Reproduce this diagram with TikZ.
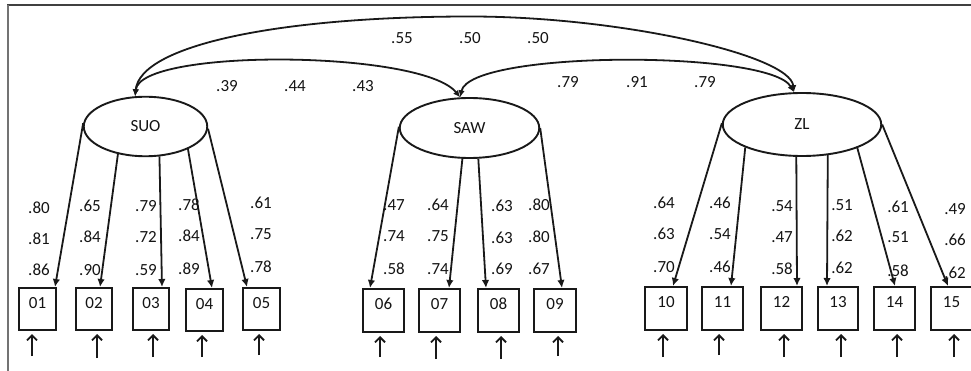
\documentclass[tikz,border=0pt]{standalone}
\usepackage{fontspec}
\setmainfont{Carlito}
\usetikzlibrary{arrows.meta,shapes.geometric}
\begin{document}
\begin{tikzpicture}[x=1pt,y=-1pt,
  every node/.style={font=\fontsize{17}{20}\selectfont, text=black!92},
  lat/.style={draw=black!90, line width=1.9pt, ellipse, inner sep=0pt},
  obs/.style={draw=black!90, line width=2.1pt, inner sep=0pt, text height=11pt, text depth=13pt,
              minimum width=40.9pt, minimum height=42.9pt},
  load/.style={draw=black!90, line width=1.8pt, -{Latex[length=8pt,width=7.5pt]}},
  cov/.style={draw=black!90, line width=1.8pt, {Latex[length=7pt,width=6.5pt]}-{Latex[length=7pt,width=6.5pt]}},
  err/.style={draw=black!90, line width=1.8pt, -{Straight Barb[length=5pt,width=10pt]}, shorten >=3pt},
  val/.style={inner sep=0pt}
]
\useasboundingbox (0,0) rectangle (971,371);
% frame
\draw[black!75, line width=1.8pt] (7,5) -- (971,5);
\draw[black!55, line width=1.5pt] (8,5) -- (8,371);

% latent variables
\node[lat, minimum width=123.5pt, minimum height=59.5pt] (SUO) at (145.5,126.5) {SUO};
\node[lat, minimum width=139.5pt, minimum height=60pt] (SAW) at (469.5,128) {SAW};
\node[lat, minimum width=158.5pt, minimum height=63pt] (ZL) at (802,124.5) {ZL};

% observed variables
\node[obs, minimum width=36.9pt, minimum height=41.9pt] (b01) at (37.5,309) {01};
\node[obs, minimum width=35.9pt, minimum height=41.9pt] (b02) at (94,309) {02};
\node[obs, minimum width=35.9pt, minimum height=41.9pt] (b03) at (151,309) {03};
\node[obs, minimum width=36.9pt, minimum height=41.9pt] (b04) at (204.5,310) {04};
\node[obs, minimum width=36.9pt, minimum height=41.9pt] (b05) at (261.5,309) {05};
\node[obs] (b06) at (383.5,310.5) {06};
\node[obs] (b07) at (439.5,310.5) {07};
\node[obs] (b08) at (498.5,310.5) {08};
\node[obs, minimum width=41.9pt] (b09) at (555,310.5) {09};
\node[obs, minimum width=41.9pt] (b10) at (666,308.5) {10};
\node[obs] (b11) at (722.5,308.5) {11};
\node[obs] (b12) at (781.5,308.5) {12};
\node[obs, minimum width=39.9pt] (b13) at (838,308.5) {13};
\node[obs] (b14) at (894.5,308.5) {14};
\node[obs] (b15) at (951.5,308.5) {15};

% covariances
\draw[cov] (SUO.109) .. controls (140,45) and (280,16.5) .. (470,16.5)
                     .. controls (620,16.5) and (790,55) .. (ZL.104);
\draw[cov] (SUO.109) .. controls (140,48) and (422,50) .. (SAW.107);
\draw[cov] (SAW.107) .. controls (470,50) and (770,50) .. (ZL.104);

% loadings
\draw[load] (SUO.177)   -- ([xshift=17.5pt]b01.north);
\draw[load] (SUO.225)   -- ([xshift=6pt]b02.north);
\draw[load] (SUO.295.5) -- ([xshift=11pt]b03.north);
\draw[load] (SUO.332.7) -- ([xshift=7.5pt]b04.north);
\draw[load] (SUO.358.6) -- ([xshift=-14.5pt]b05.north);
\draw[load] (SAW.179.2) -- ([xshift=-13.5pt]b06.north);
\draw[load] (SAW.257)   -- ([xshift=9.5pt]b07.north);
\draw[load] (SAW.286.5) -- ([xshift=-12.5pt]b08.north);
\draw[load] (SAW.0)     -- ([xshift=7pt]b09.north);
\draw[load] (ZL.179)    -- ([xshift=7pt]b10.north);
\draw[load] (ZL.202.4)  -- ([xshift=8.5pt]b11.north);
\draw[load] (ZL.260.4)  -- ([xshift=15.5pt]b12.north);
\draw[load] (ZL.310.3)  -- ([xshift=-11pt]b13.north);
\draw[load] (ZL.337.2)  -- ([xshift=0.5pt]b14.north);
\draw[load] (ZL.0)      -- ([xshift=-3.5pt]b15.north);

% error arrows
\foreach \b/\x/\y in {01/32/356, 02/97/358, 03/153/357, 04/202/357, 05/259/355,
                      06/380/357, 07/436/359, 08/501/359, 09/558/356,
                      10/663/357, 11/719/355, 12/784/357, 13/841/357, 14/897/357, 15/954/357}{
  \coordinate (e\b) at (\x,\y);
  \draw[err] (e\b) -- (e\b |- b\b.south);
}

% covariance values
\foreach \n/\x/\y/\t in {c1/402/38/.55, c2/470/38/.50, c3/538/38/.50,
                         c4/227/86/.39, c5/295/86/.44, c6/363/86/.43,
                         c7/568/82/.79, c8/637/82/.91, c9/705/82/.79}{
  \node[val] (\n) at (\x,\y) {\t};
}

% loading values
\foreach \n/\x/\ya/\yb/\yc/\ta/\tb/\tc in {
   1/39/208/239/270/.80/.81/.86,
   2/90/206/237/270/.65/.84/.90,
   3/146/206/237/270/.79/.72/.59,
   4/189/205/236/269/.78/.84/.89,
   5/261/203/234/267/.61/.75/.78,
   6/394/205/236/269/.47/.74/.58,
   7/438/205/236/269/.64/.75/.74,
   8/502/206/238/269/.63/.63/.69,
   9/539/205/237/269/.80/.80/.67,
   10/664/203/234/267/.64/.63/.70,
   11/720/203/234/267/.46/.54/.46,
   12/782/206/237/269/.54/.47/.58,
   13/842/205/236/268/.51/.62/.62,
   14/898/207/237/271/.61/.51/.58,
   15/955/209/240/273/.49/.66/.62}{
  \node[val] (v\n a) at (\x,\ya) {\ta};
  \node[val] (v\n b) at (\x,\yb) {\tb};
  \node[val] (v\n c) at (\x,\yc) {\tc};
}
\end{tikzpicture}
\end{document}
